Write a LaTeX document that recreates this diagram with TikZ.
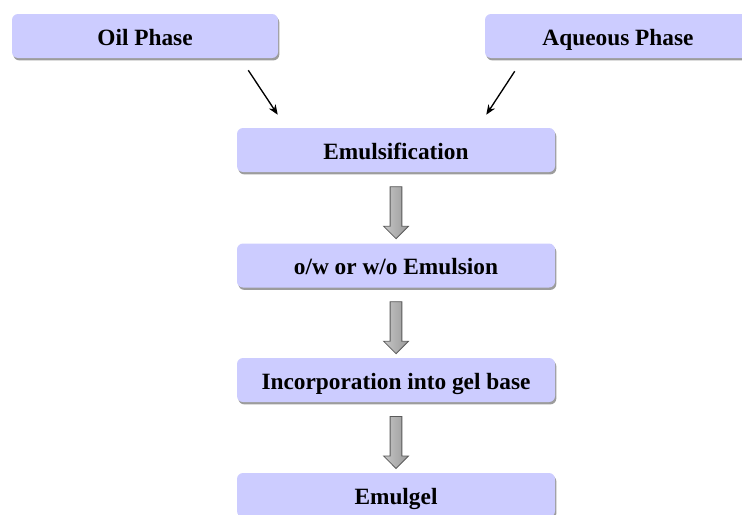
\documentclass[tikz,border=0pt]{standalone}
\usepackage{fontspec}
\setmainfont{Liberation Serif}
\usetikzlibrary{calc,shadows,shapes.arrows,arrows.meta}
\begin{document}
\begin{tikzpicture}[x=0.75pt,y=-0.75pt,
  stagebox/.style={rectangle,rounded corners=4.5pt,fill=fillColor,draw=none,
    minimum height=33pt,inner sep=0pt,text=drawColor,text height=14pt,text depth=0.5pt,
    font=\fontsize{17.5}{21}\selectfont\bfseries,
    drop shadow={shadow xshift=1pt,shadow yshift=-1.8pt,opacity=0.55,fill=black!70}},
  phasebox/.style={stagebox,minimum width=199.5pt},
  mainbox/.style={stagebox,minimum width=238.5pt},
  flowarrow/.style={single arrow,rotate=-90,draw=arrowDraw,line width=0.6pt,
    left color=gray!45,right color=gray!80,inner sep=4.1pt,
    minimum height=39pt,single arrow head extend=4.9pt,single arrow tip angle=90},
  thinarrow/.style={draw=drawColor,line width=1pt,-{Stealth[length=7.5pt,width=6pt]}}]
\definecolor{fillColor}{RGB}{204,204,255}
\definecolor{drawColor}{RGB}{0,0,0}
\definecolor{arrowDraw}{RGB}{90,90,90}
\path[use as bounding box,fill=white] (0,0) rectangle (742,514);
\begin{scope}
\path[clip] (0,0) rectangle (742,514);

\node[phasebox] (oil) at (145,36) {Oil Phase};

\node[phasebox] (aqueous) at (618,36) {Aqueous Phase};

\node[mainbox] (emulsification) at (396,150) {Emulsification};

\node[mainbox] (emulsion) at (396,265.5) {o/w or w/o Emulsion};

\node[mainbox] (gelbase) at (396,380) {Incorporation into gel base};

\node[mainbox] (emulgel) at (396,495) {Emulgel};

\coordinate (oilout) at ($(oil.south east)+(-30,12)$);
\coordinate (oilin) at ($(emulsification.north west)+(41,-13)$);
\coordinate (aqout) at ($(aqueous.south west)+(30,13)$);
\coordinate (aqin) at ($(emulsification.north east)+(-69,-13)$);

\path[thinarrow] (oilout) -- (oilin);

\path[thinarrow] (aqout) -- (aqin);

\node[flowarrow] (step1) at ($(emulsification.south)!0.5!(emulsion.north)+(0,2)$) {};

\node[flowarrow] (step2) at ($(emulsion.south)!0.5!(gelbase.north)+(0,2)$) {};

\node[flowarrow] (step3) at ($(gelbase.south)!0.5!(emulgel.north)+(0,2)$) {};
\end{scope}
\end{tikzpicture}
\end{document}
